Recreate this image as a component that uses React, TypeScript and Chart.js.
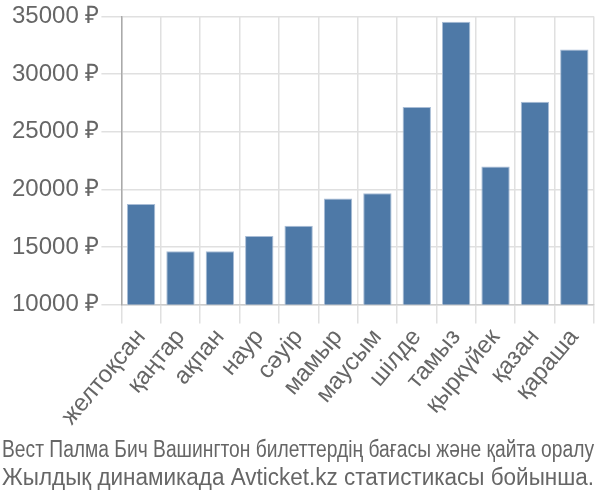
import React, { useEffect, useRef } from "react";
import { Chart, registerables } from "chart.js";

Chart.register(...registerables);

const months = [
  "желтоқсан",
  "қаңтар",
  "ақпан",
  "наур",
  "сәуір",
  "мамыр",
  "маусым",
  "шілде",
  "тамыз",
  "қыркүйек",
  "қазан",
  "қараша",
];

const prices = [18730, 14630, 14630, 15950, 16850, 19200, 19660, 27130, 34540, 21980, 27590, 32130];

const titleLines = [
  "Вест Палма Бич Вашингтон билеттердің бағасы және қайта оралу",
  "Жылдық динамикада Avticket.kz статистикасы бойынша.",
];

const currency = " ₽";

export default function App() {
  const ref = useRef<HTMLCanvasElement | null>(null);

  useEffect(() => {
    document.body.style.margin = "0";
    const ctx = ref.current;
    if (!ctx) return;
    const chart = new Chart(ctx, {
      type: "bar",
      data: {
        labels: months,
        datasets: [
          {
            data: prices,
            backgroundColor: "#4e79a7",
            borderColor: "#a9bdd6",
            borderWidth: 1,
            barPercentage: 0.72,
            categoryPercentage: 1,
          },
        ],
      },
      options: {
        animation: false,
        responsive: false,
        layout: { padding: { top: 3, right: 6, left: 2, bottom: 0 } },
        plugins: {
          legend: { display: false },
          tooltip: { enabled: false },
          title: {
            display: true,
            position: "bottom",
            text: titleLines,
            color: "#666",
            font: { family: "'Liberation Sans', Arial, sans-serif", size: 23, weight: "normal", lineHeight: 1.2 },
            padding: { top: 6, bottom: 8 },
          },
        },
        scales: {
          x: {
            grid: { color: "#e0e0e0", lineWidth: 1.5, tickLength: 19, offset: true },
            border: { color: "#cccccc", width: 1.5 },
            ticks: {
              color: "#666",
              font: { family: "'Liberation Sans', Arial, sans-serif", size: 24 },
              minRotation: 50,
              maxRotation: 50,
              autoSkip: false,
              padding: 0,
            },
          },
          y: {
            min: 10000,
            max: 35000,
            grid: { color: "#e0e0e0", lineWidth: 1.5, tickLength: 20 },
            border: { color: "#aaaaaa", width: 1.5 },
            afterFit: (s: any) => {
              s.width += 8;
            },
            ticks: {
              stepSize: 5000,
              color: "#666",
              font: { family: "'Liberation Sans', Arial, sans-serif", size: 24 },
              padding: 2,
              callback: (v: any) => v + currency,
            },
          },
        },
      },
    });
    return () => chart.destroy();
  }, []);

  return (
    <div style={{ width: 600, height: 500 }}>
      <canvas ref={ref} width={600} height={500} />
    </div>
  );
}
